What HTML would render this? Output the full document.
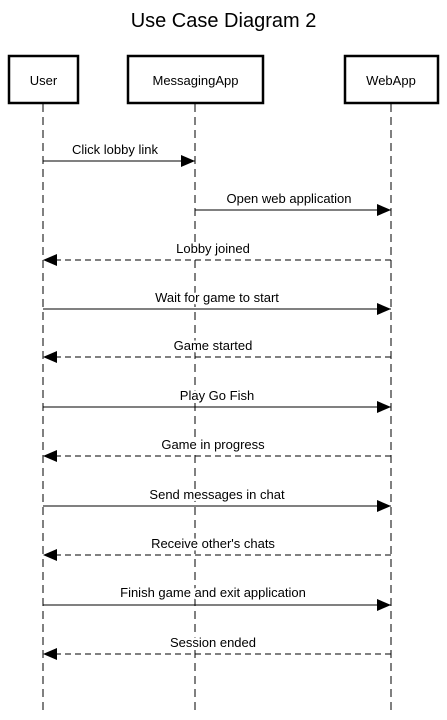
<!DOCTYPE html>
<html><head><style>body{margin:0;background:#fff}</style></head><body>
<svg width="447" height="715" xmlns="http://www.w3.org/2000/svg" font-family="Liberation Sans, sans-serif">
<text x="223.5" y="27" font-size="20" text-anchor="middle">Use Case Diagram 2</text>
<g stroke="#000" stroke-width="1" stroke-dasharray="8,5">
<line x1="43" y1="104" x2="43" y2="715"/>
<line x1="195" y1="104" x2="195" y2="715"/>
<line x1="391" y1="104" x2="391" y2="715"/>
</g>
<g fill="#fff" stroke="#000" stroke-width="2.5">
<rect x="9" y="56" width="69" height="47"/>
<rect x="128" y="56" width="135" height="47"/>
<rect x="345" y="56" width="93" height="47"/>
</g>
<g font-size="13" text-anchor="middle">
<text x="43.5" y="85">User</text>
<text x="195.5" y="85">MessagingApp</text>
<text x="391" y="85">WebApp</text>
</g>
<defs>
<marker id="a" markerWidth="14" markerHeight="12" refX="14" refY="6" orient="auto" markerUnits="userSpaceOnUse"><path d="M0,0L14,6L0,12z" fill="#000"/></marker>
</defs>
<g stroke="#000" stroke-width="1" marker-end="url(#a)">
<line x1="43" y1="161" x2="195" y2="161"/>
<line x1="195" y1="210" x2="391" y2="210"/>
<line x1="391" y1="260" x2="43" y2="260" stroke-dasharray="6,4"/>
<line x1="43" y1="309" x2="391" y2="309"/>
<line x1="391" y1="357" x2="43" y2="357" stroke-dasharray="6,4"/>
<line x1="43" y1="407" x2="391" y2="407"/>
<line x1="391" y1="456" x2="43" y2="456" stroke-dasharray="6,4"/>
<line x1="43" y1="506" x2="391" y2="506"/>
<line x1="391" y1="555" x2="43" y2="555" stroke-dasharray="6,4"/>
<line x1="43" y1="605" x2="391" y2="605"/>
<line x1="391" y1="654" x2="43" y2="654" stroke-dasharray="6,4"/>
</g>
<g font-size="13" text-anchor="middle" stroke="#fff" stroke-width="5" paint-order="stroke" stroke-linejoin="round">
<text x="115" y="154">Click lobby link</text>
<text x="289" y="203">Open web application</text>
<text x="213" y="253">Lobby joined</text>
<text x="217" y="302">Wait for game to start</text>
<text x="213" y="350">Game started</text>
<text x="217" y="400">Play Go Fish</text>
<text x="213" y="449">Game in progress</text>
<text x="217" y="499">Send messages in chat</text>
<text x="213" y="548">Receive other's chats</text>
<text x="213" y="597">Finish game and exit application</text>
<text x="213" y="647">Session ended</text>
</g>
</svg>
</body></html>
